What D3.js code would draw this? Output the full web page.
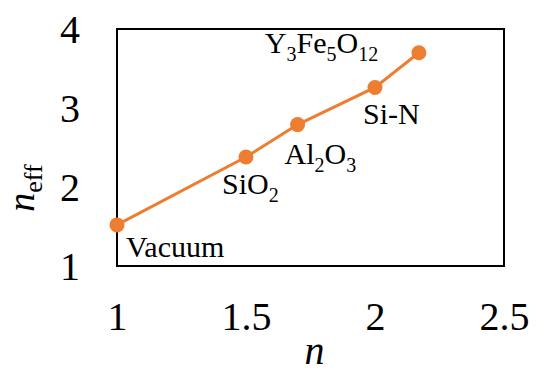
<!DOCTYPE html>
<html>
<head>
<meta charset="utf-8">
<script src="https://cdnjs.cloudflare.com/ajax/libs/d3/7.8.5/d3.min.js"></script>
<style>
  body { margin: 0; background: #fff; }
  svg { display: block; }
  svg text { font-family: "Liberation Serif", "Times New Roman", serif; }
</style>
</head>
<body>
<div id="chart"></div>
<script>
// data
var materials = ['Vacuum', 'SiO2', 'Al2O3', 'Si-N', 'Y3Fe5O12'];
var nValues   = [1.0, 1.5, 1.7, 2.0, 2.17];
var nEff      = [1.52, 2.38, 2.79, 3.26, 3.70];
var xTicks    = [1, 1.5, 2, 2.5];
var yTicks    = [1, 2, 3, 4];

// label pieces: [text, isSubscript]
var labelParts = {
  'Vacuum':   [['Vacuum', false]],
  'SiO2':     [['SiO', false], ['2', true]],
  'Al2O3':    [['Al', false], ['2', true], ['O', false], ['3', true]],
  'Si-N':     [['Si-N', false]],
  'Y3Fe5O12': [['Y', false], ['3', true], ['Fe', false], ['5', true], ['O', false], ['12', true]]
};
// label offsets from the marker (px)
var labelDx = [9, -24, -13, -12, -154];
var labelDy = [32, 37, 39, 37, 0];

var W = 538, H = 372;
var margin = { top: 29, right: 34, bottom: 106, left: 117 };
var width  = W - margin.left - margin.right;
var height = H - margin.top - margin.bottom;
var orange = '#ED7D31';
var serif  = '"Liberation Serif", "Times New Roman", serif';

var svg = d3.select('#chart').append('svg')
  .attr('width', W)
  .attr('height', H);

var g = svg.append('g')
  .attr('transform', 'translate(' + margin.left + ',' + margin.top + ')');

var x = d3.scaleLinear().domain([1, 2.5]).range([0, width]);
var y = d3.scaleLinear().domain([1, 4]).range([height, 0]);

// x axis tick labels
var xAxis = d3.axisBottom(x).tickValues(xTicks).tickSize(0).tickPadding(0)
  .tickFormat(function(d) { return String(d); });
var xg = g.append('g').attr('transform', 'translate(0,' + height + ')').call(xAxis)
  .attr('font-family', serif).attr('font-size', 40);
xg.select('.domain').remove();
xg.selectAll('text')
  .attr('y', 64).attr('dy', null)
  .attr('fill', '#000');

// y axis tick labels
var yAxis = d3.axisLeft(y).tickValues(yTicks).tickSize(0).tickPadding(0)
  .tickFormat(function(d) { return String(d); });
var yg = g.append('g').call(yAxis)
  .attr('font-family', serif).attr('font-size', 40);
yg.select('.domain').remove();
yg.selectAll('text')
  .attr('x', -37).attr('dy', '0.34em')
  .attr('fill', '#000');

// plot box
g.append('rect')
  .attr('x', 0).attr('y', 0)
  .attr('width', width).attr('height', height)
  .attr('fill', 'none').attr('stroke', '#000').attr('stroke-width', 2);

var pts = materials.map(function(m, i) { return { name: m, n: nValues[i], ne: nEff[i], i: i }; });

var line = d3.line()
  .x(function(d) { return x(d.n); })
  .y(function(d) { return y(d.ne); });

g.append('path')
  .datum(pts)
  .attr('d', line)
  .attr('fill', 'none')
  .attr('stroke', orange)
  .attr('stroke-width', 3);

g.selectAll('circle.pt').data(pts).enter().append('circle')
  .attr('class', 'pt')
  .attr('cx', function(d) { return x(d.n); })
  .attr('cy', function(d) { return y(d.ne); })
  .attr('r', 7.5)
  .attr('fill', orange);

// material labels
var labels = g.selectAll('text.lab').data(pts).enter().append('text')
  .attr('class', 'lab')
  .attr('x', function(d) { return x(d.n) + labelDx[d.i]; })
  .attr('y', function(d) { return y(d.ne) + labelDy[d.i]; })
  .style('font-size', '30px')
  .style('fill', '#000');

labels.each(function(d) {
  var t = d3.select(this);
  var prevSub = false;
  labelParts[d.name].forEach(function(p) {
    var sp = t.append('tspan').text(p[0]);
    if (p[1]) {
      sp.style('font-size', '20px').attr('dy', prevSub ? 0 : 8);
    } else if (prevSub) {
      sp.attr('dy', -8);
    }
    prevSub = p[1];
  });
});

// axis titles
svg.append('text')
  .attr('x', margin.left + width / 2 + 4)
  .attr('y', 364)
  .attr('text-anchor', 'middle')
  .style('font-size', '40px')
  .style('font-style', 'italic')
  .text('n');

var yt = svg.append('text')
  .attr('transform', 'translate(34,188) rotate(-90)')
  .attr('text-anchor', 'middle')
  .style('font-size', '38px');
yt.append('tspan').style('font-style', 'italic').text('n');
yt.append('tspan').style('font-size', '26px').attr('dy', 8).text('eff');
</script>
</body>
</html>
